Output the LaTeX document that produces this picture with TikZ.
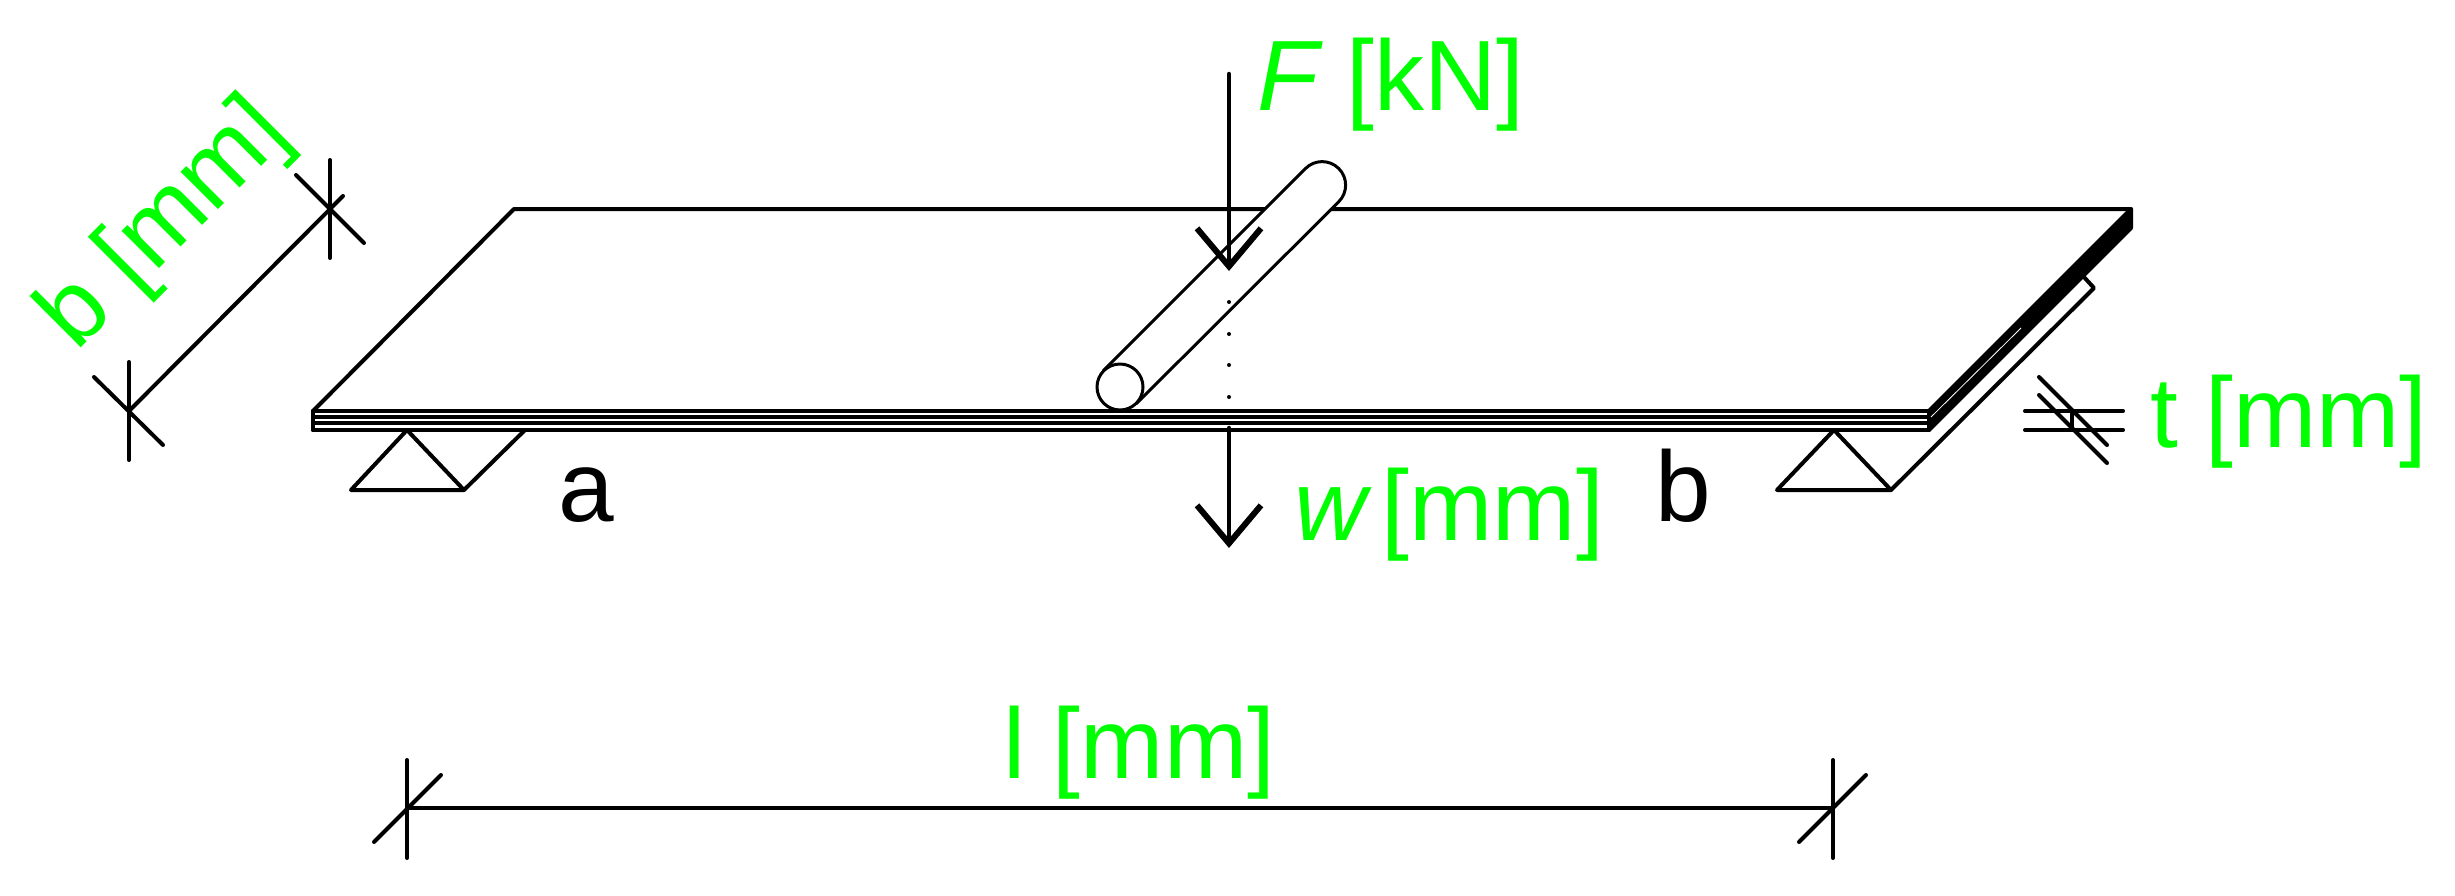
\documentclass[tikz,border=0pt]{standalone}
\usepackage{fontspec}
\setmainfont{Liberation Sans}
\usetikzlibrary{arrows.meta}
\definecolor{dimgreen}{RGB}{0,255,0}
\tikzset{
  ln/.style={line width=4pt,line cap=round,line join=round},
  arrowln/.style={ln,line width=4.5pt,-{Straight Barb[length=38pt,width=64pt,line width=6pt]}},
  lbl/.style={inner sep=0pt,outer sep=0pt,anchor=base west,font=\fontsize{100}{120}\selectfont},
  grn/.style={lbl,text=dimgreen}
}
\begin{document}
\begin{tikzpicture}[x=1pt,y=-1pt]
\useasboundingbox (0,0) rectangle (2455,895);
\fill[white] (0,0) rectangle (2455,895);
% plate
\coordinate (pfl) at (313,411);
\coordinate (pflb) at (313,430);
\coordinate (ptl) at (514,209);
\coordinate (ptr) at (2131,209);
\coordinate (pfr) at (1929,411);
\coordinate (pfrb) at (1929,430);
\coordinate (ptrb) at (2131,228);
\draw[ln] (pfl) -- (ptl) -- (ptr);
\draw[ln] (pfl) -- (pfr);
\draw[ln] (313,416.5) -- (1929,416.5);
\draw[ln] (313,423) -- (1929,423);
\draw[ln] (pflb) -- (pfrb);
\draw[ln] (pfl) -- (pflb);
\draw[ln,fill=black] (pfr) -- (ptr) -- (ptrb) -- (pfrb) -- cycle;
\draw[white,line width=0.8pt] (1931,417) -- (2021,328);
% supports
\coordinate (sa) at (407,430);
\coordinate (sal) at (351,490);
\coordinate (sar) at (464,490);
\coordinate (saf) at (525,430);
\draw[ln] (sa) -- (sal) -- (sar) -- cycle;
\draw[ln] (sar) -- (saf);
\coordinate (sb) at (1834,430);
\coordinate (sbl) at (1777,490);
\coordinate (sbr) at (1891,490);
\coordinate (sbf) at (2094,288);
\coordinate (sbe) at (2083,276);
\draw[ln] (sb) -- (sbl) -- (sbr) -- cycle;
\draw[ln] (sbr) -- (sbf) -- (sbe);
% roller
\coordinate (cn) at (1120,387);
\coordinate (cf) at (1322,185);
\filldraw[ln,line width=3pt,fill=white] (1103.5,370.5) -- (1305.5,168.5) arc[start angle=225,end angle=405,radius=23.5] -- (1136.5,403.5) -- cycle;
\node[circle,draw,fill=white,line width=3pt,minimum size=46pt,inner sep=0pt] (roller) at (cn) {};
% dots
\foreach \y in {302,334,365,397}
  \fill[black] (1229,\y) circle (2pt);
% force and deflection
\coordinate (fa) at (1229,74);
\coordinate (fb) at (1229,271);
\draw[arrowln] (fa) -- (fb);
\coordinate (wa) at (1229,428);
\coordinate (wb) at (1229,548);
\draw[arrowln] (wa) -- (wb);
% dim b
\coordinate (b1) at (129,411);
\coordinate (b2) at (330,209);
\coordinate (b2e) at (343,196);
\draw[ln] (b1) -- (b2e);
\draw[ln] (129,362) -- (129,460);
\draw[ln] (94,377) -- (163,445);
\draw[ln] (330,160) -- (330,258);
\draw[ln] (296,175) -- (364,243);
% dim t
\draw[ln] (2025,411) -- (2123,411);
\draw[ln] (2025,430) -- (2123,430);
\draw[ln] (2039,377) -- (2107,445);
\draw[ln] (2039,395) -- (2107,463);
\draw[ln] (2072,411) -- (2072,430);
% dim l
\coordinate (l1) at (407,808);
\coordinate (l2) at (1833,808);
\draw[ln] (l1) -- (l2);
\draw[ln] (407,760) -- (407,858);
\draw[ln] (374,842) -- (441,775);
\draw[ln] (1833,760) -- (1833,858);
\draw[ln] (1799,842) -- (1866,775);
% labels
\node[grn] (lF) at (1257,110) {\textit{F}\kern 24pt[kN]};
\node[grn] (lw) at (1294,540) {\textit{w}\kern 10pt[mm]};
\node[lbl] (la) at (558,521) {a};
\node[lbl] (lb) at (1655,521) {b};
\node[grn] (lt) at (2150,447) {t [mm]};
\node[grn] (ll) at (1003,778) {l [mm]};
\node[grn,rotate=45] (lbd) at (76,352) {b [mm]};
\end{tikzpicture}
\end{document}
